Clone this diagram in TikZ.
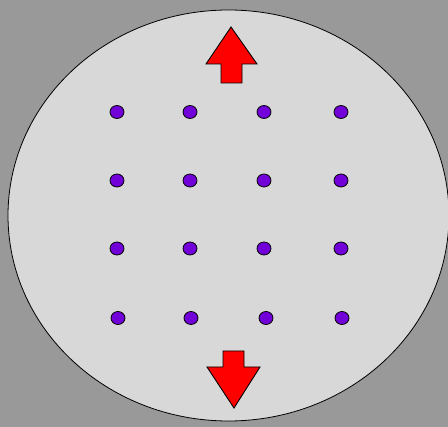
\documentclass[tikz,border=0pt]{standalone}
\usetikzlibrary{shapes.geometric}
\definecolor{bg}{RGB}{153,153,153}
\definecolor{disc}{RGB}{216,216,216}
\definecolor{dotc}{RGB}{114,0,216}
\definecolor{arr}{RGB}{255,0,0}
\begin{document}
\begin{tikzpicture}[x=1pt,y=-1pt,
  dotnode/.style={ellipse,draw=black,line width=0.8pt,fill=dotc,minimum width=14pt,minimum height=13pt,inner sep=0pt},
  arrowshape/.style={fill=arr,draw=black,line width=0.9pt,line join=miter}]
\useasboundingbox (0,0) rectangle (448,427);
\fill[bg] (0,0) rectangle (448,427);
\draw[fill=disc,line width=0.8pt] (228.5,215.5) ellipse [x radius=220.5, y radius=205.5];
% top arrow
\draw[arrowshape] (231,27) -- (257,64) -- (242,64) -- (242,83) -- (221,83) -- (221,64) -- (206,64) -- cycle;
% bottom arrow
\draw[arrowshape] (234,408) -- (260,367) -- (244,367) -- (244,351) -- (223,351) -- (223,367) -- (207,367) -- cycle;
% dots
\foreach \r/\y/\xa/\xb/\xc/\xd in {1/112/117/190/264/341, 2/180.5/117/190/264/341, 3/248.5/117/190/264/341, 4/318/118/191/266/342}{
  \node[dotnode] (d\r a) at (\xa,\y) {};
  \node[dotnode] (d\r b) at (\xb,\y) {};
  \node[dotnode] (d\r c) at (\xc,\y) {};
  \node[dotnode] (d\r d) at (\xd,\y) {};
}
\end{tikzpicture}
\end{document}
